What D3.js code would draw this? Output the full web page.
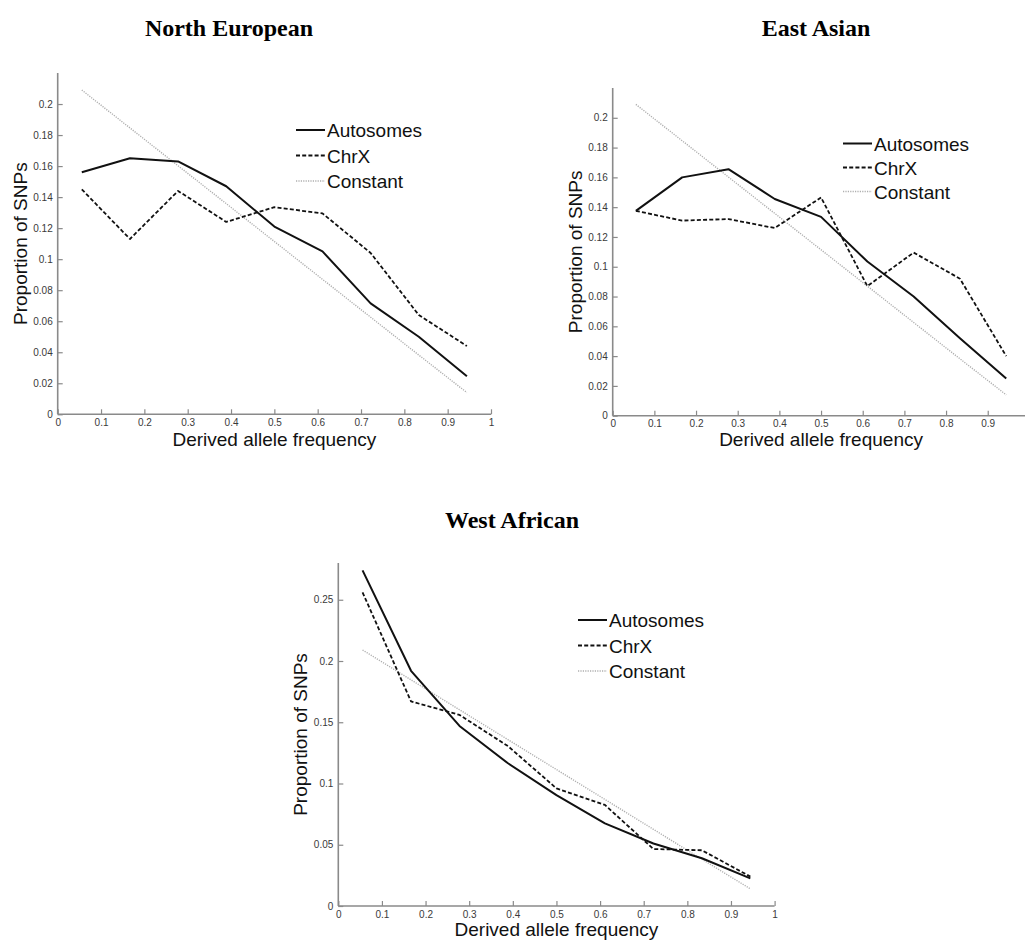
<!DOCTYPE html>
<html>
<head>
<meta charset="utf-8">
<script src="https://cdn.jsdelivr.net/npm/d3@7"></script>
<style>
  html, body { margin: 0; padding: 0; background: #fff; }
  svg { display: block; }
</style>
</head>
<body>
<svg id="chart" width="1025" height="941"></svg>
<script>
// ---------------- DATA ----------------
const panelTitles = ["North European", "East Asian", "West African"];
const seriesNames = ["Autosomes", "ChrX", "Constant"];
const freqBins = [0.0556, 0.1667, 0.2778, 0.3889, 0.5, 0.6111, 0.7222, 0.8333, 0.9444];
const constantExpect = [0.209, 0.1846, 0.1602, 0.1358, 0.1114, 0.087, 0.0626, 0.0382, 0.014];

const northEuropeanAutosomes = [0.156, 0.165, 0.163, 0.147, 0.121, 0.105, 0.0715, 0.050, 0.0245];
const northEuropeanChrX      = [0.145, 0.113, 0.144, 0.124, 0.1335, 0.1295, 0.104, 0.064, 0.044];
const eastAsianAutosomes     = [0.1375, 0.160, 0.1655, 0.1455, 0.1335, 0.1035, 0.080, 0.052, 0.025];
const eastAsianChrX          = [0.1375, 0.131, 0.132, 0.126, 0.1465, 0.087, 0.1095, 0.092, 0.040];
const westAfricanAutosomes   = [0.274, 0.192, 0.147, 0.1165, 0.0905, 0.0675, 0.051, 0.039, 0.0225];
const westAfricanChrX        = [0.256, 0.167, 0.156, 0.1305, 0.096, 0.0825, 0.0465, 0.0455, 0.024];

const xTicks = [0, 0.1, 0.2, 0.3, 0.4, 0.5, 0.6, 0.7, 0.8, 0.9, 1];
const yTicksSmall = [0, 0.02, 0.04, 0.06, 0.08, 0.1, 0.12, 0.14, 0.16, 0.18, 0.2];
const yTicksLarge = [0, 0.05, 0.1, 0.15, 0.2, 0.25];
const yMaxSmall = 0.22;
const yMaxLarge = 0.28;
const xLabel = "Derived allele frequency";
const yLabel = "Proportion of SNPs";

// ---------------- LAYOUT ----------------
const WIDTH = 1025;
const layouts = [
  { x0: 57.7, x1: 491, yBottom: 414.3, yTop: 73, titleX: 229, titleY: 36, xLabelY: 446,
    yLabelX: 27, legX: 296, legY: [130, 155.5, 181] },
  { x0: 612.7, x1: 1029.4, yBottom: 415.7, yTop: 88, titleX: 816, titleY: 36, xLabelY: 446,
    yLabelX: 582, legX: 843, legY: [143.5, 167.5, 191.5] },
  { x0: 338.3, x1: 774.6, yBottom: 906, yTop: 563, titleX: 512, titleY: 528, xLabelY: 936,
    yLabelX: 307, legX: 578, legY: [620, 645.5, 671] }
];

const panels = [
  { title: panelTitles[0], auto: northEuropeanAutosomes, chrx: northEuropeanChrX, yMax: yMaxSmall, yTicks: yTicksSmall },
  { title: panelTitles[1], auto: eastAsianAutosomes, chrx: eastAsianChrX, yMax: yMaxSmall, yTicks: yTicksSmall },
  { title: panelTitles[2], auto: westAfricanAutosomes, chrx: westAfricanChrX, yMax: yMaxLarge, yTicks: yTicksLarge }
];

const styles = {
  Autosomes: { stroke: "#111", width: 2, dash: null },
  ChrX: { stroke: "#111", width: 1.8, dash: "4,2.2" },
  Constant: { stroke: "#afafaf", width: 1.4, dash: "1.2,1.2" }
};

const svg = d3.select("#chart");
const fmt = d => String(+d.toFixed(2));

panels.forEach((p, i) => {
  const L = layouts[i];
  const x = d3.scaleLinear().domain([0, 1]).range([L.x0, L.x1]);
  const y = d3.scaleLinear().domain([0, p.yMax]).range([L.yBottom, L.yTop]);
  const g = svg.append("g");

  // title
  g.append("text")
    .attr("x", L.titleX).attr("y", L.titleY)
    .attr("text-anchor", "middle")
    .style("font-family", "'Liberation Serif', 'Times New Roman', serif")
    .style("font-weight", "bold").style("font-size", "24px").style("fill", "#000")
    .text(p.title);

  // x axis (only ticks that fall inside the page)
  const visibleX = xTicks.filter(t => x(t) <= WIDTH - 4);
  const xAxis = d3.axisBottom(x).tickValues(visibleX).tickFormat(fmt)
    .tickSizeInner(-5).tickSizeOuter(0).tickPadding(8);
  const gx = g.append("g").attr("transform", `translate(0,${L.yBottom})`).call(xAxis);
  // y axis
  const yAxis = d3.axisLeft(y).tickValues(p.yTicks).tickFormat(fmt)
    .tickSizeInner(-5).tickSizeOuter(0).tickPadding(5);
  const gy = g.append("g").attr("transform", `translate(${L.x0},0)`).call(yAxis);

  [gx, gy].forEach(ax => {
    ax.select(".domain").attr("stroke", "#8a8a8a").attr("stroke-width", 1.6);
    ax.selectAll(".tick line").attr("stroke", "#8a8a8a").attr("stroke-width", 1.2);
    ax.selectAll(".tick text")
      .style("font-family", "'Liberation Sans', Arial, sans-serif")
      .style("font-size", "10px").attr("fill", "#3a3a3a");
  });
  gx.selectAll(".tick text").attr("dy", "0.35em").attr("y", 8);
  gy.select(".domain").attr("d", `M0,${y(p.yMax)}V${y(0)}`);
  gx.select(".domain").attr("d", `M${x(0)},0H${x(1)}`);

  // axis labels
  g.append("text")
    .attr("x", (L.x0 + L.x1) / 2).attr("y", L.xLabelY)
    .attr("text-anchor", "middle")
    .style("font-family", "'Liberation Sans', Arial, sans-serif")
    .style("font-size", "19px").style("fill", "#111")
    .text(xLabel);
  g.append("text")
    .attr("transform", `translate(${L.yLabelX},${(L.yBottom + L.yTop) / 2}) rotate(-90)`)
    .attr("text-anchor", "middle")
    .style("font-family", "'Liberation Sans', Arial, sans-serif")
    .style("font-size", "19px").style("fill", "#111")
    .text(yLabel);

  // lines
  const line = d3.line().x(d => x(d[0])).y(d => y(d[1]));
  const seriesData = {
    Constant: freqBins.map((f, k) => [f, constantExpect[k]]),
    ChrX: freqBins.map((f, k) => [f, p.chrx[k]]),
    Autosomes: freqBins.map((f, k) => [f, p.auto[k]])
  };
  ["Constant", "ChrX", "Autosomes"].forEach(name => {
    const s = styles[name];
    g.append("path").datum(seriesData[name])
      .attr("d", line).attr("fill", "none")
      .attr("stroke", s.stroke).attr("stroke-width", s.width)
      .attr("stroke-linejoin", "round")
      .attr("stroke-dasharray", s.dash);
  });

  // legend
  seriesNames.forEach((name, k) => {
    const s = styles[name];
    const ly = L.legY[k];
    g.append("line")
      .attr("x1", L.legX).attr("x2", L.legX + 29).attr("y1", ly).attr("y2", ly)
      .attr("stroke", s.stroke).attr("stroke-width", s.width)
      .attr("stroke-dasharray", s.dash);
    g.append("text")
      .attr("x", L.legX + 31).attr("y", ly + 7)
      .style("font-family", "'Liberation Sans', Arial, sans-serif")
      .style("font-size", "19px").style("fill", "#111")
      .text(name);
  });
});
</script>
</body>
</html>
